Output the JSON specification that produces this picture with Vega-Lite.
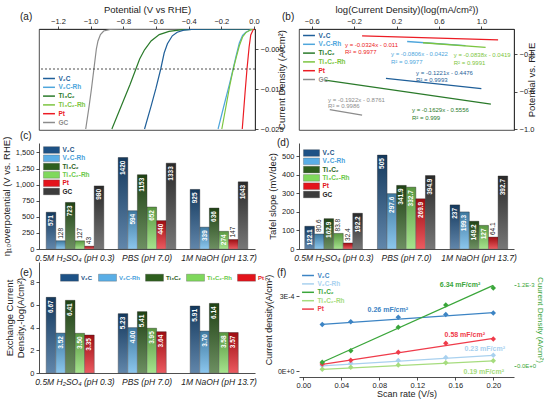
{
  "$schema": "https://vega.github.io/schema/vega-lite/v6.json",
  "padding": {"left": 1, "top": 3, "right": 0, "bottom": 0},
  "columns": 2,
  "spacing": {"row": 13, "column": 44},
  "bounds": "flush",
  "align": "each",
  "resolve": {"scale": {"color": "independent"}, "legend": {"color": "independent"}},
  "config": {
    "font": "Liberation Sans",
    "view": {"stroke": null},
    "axis": {"labelFontSize": 7.5, "titleFontSize": 9.5, "titleFontWeight": "normal", "labelColor": "#222", "titleColor": "#222", "tickColor": "#222", "domainColor": "#222", "tickSize": 3, "tickWidth": 0.8, "domainWidth": 0.8, "grid": false, "labelPadding": 2, "titlePadding": 4, "labelOverlap": false, "labelFlush": false},
    "legend": {"labelFontSize": 6.5, "labelFontWeight": "bold"},
    "title": {"fontSize": 10, "fontWeight": "normal", "anchor": "start", "frame": "group", "offset": 0, "color": "#222"}
  },
  "concat": [
    {
      "width": 216, "height": 101,
      "view": {"stroke": "#222", "strokeWidth": 0.8},
      "title": {"text": "(a)", "dx": -19, "dy": 22},
      "layer": [
        {
          "data": {"values": [
            {"s":"GC","E":0,"j":0},{"s":"GC","E":-0.8,"j":-0.00002},{"s":"GC","E":-0.88,"j":-0.0001},{"s":"GC","E":-0.92,"j":-0.0005},{"s":"GC","E":-0.94,"j":-0.0014},{"s":"GC","E":-0.955,"j":-0.003},{"s":"GC","E":-0.965,"j":-0.005},{"s":"GC","E":-0.98,"j":-0.01},{"s":"GC","E":-0.995,"j":-0.015},{"s":"GC","E":-1.01,"j":-0.0195},{"s":"GC","E":-1.03,"j":-0.025},
            {"s":"Ti₃C₂","E":0,"j":0},{"s":"Ti₃C₂","E":-0.35,"j":-0.00003},{"s":"Ti₃C₂","E":-0.45,"j":-0.0002},{"s":"Ti₃C₂","E":-0.52,"j":-0.0006},{"s":"Ti₃C₂","E":-0.58,"j":-0.0014},{"s":"Ti₃C₂","E":-0.63,"j":-0.003},{"s":"Ti₃C₂","E":-0.67,"j":-0.0052},{"s":"Ti₃C₂","E":-0.7,"j":-0.0075},{"s":"Ti₃C₂","E":-0.723,"j":-0.01},{"s":"Ti₃C₂","E":-0.76,"j":-0.014},{"s":"Ti₃C₂","E":-0.8,"j":-0.018},{"s":"Ti₃C₂","E":-0.84,"j":-0.022},{"s":"Ti₃C₂","E":-0.87,"j":-0.025},
            {"s":"V₂C","E":0,"j":0},{"s":"V₂C","E":-0.3,"j":-0.00003},{"s":"V₂C","E":-0.38,"j":-0.0001},{"s":"V₂C","E":-0.43,"j":-0.0003},{"s":"V₂C","E":-0.47,"j":-0.0008},{"s":"V₂C","E":-0.5,"j":-0.0017},{"s":"V₂C","E":-0.53,"j":-0.0037},{"s":"V₂C","E":-0.55,"j":-0.006},{"s":"V₂C","E":-0.571,"j":-0.01},{"s":"V₂C","E":-0.6,"j":-0.0148},{"s":"V₂C","E":-0.63,"j":-0.0193},{"s":"V₂C","E":-0.67,"j":-0.025},
            {"s":"V₂C-Rh","E":0,"j":0},{"s":"V₂C-Rh","E":-0.02,"j":-0.0002},{"s":"V₂C-Rh","E":-0.05,"j":-0.0008},{"s":"V₂C-Rh","E":-0.07,"j":-0.0016},{"s":"V₂C-Rh","E":-0.09,"j":-0.0035},{"s":"V₂C-Rh","E":-0.11,"j":-0.0068},{"s":"V₂C-Rh","E":-0.128,"j":-0.01},{"s":"V₂C-Rh","E":-0.15,"j":-0.0137},{"s":"V₂C-Rh","E":-0.18,"j":-0.0185},{"s":"V₂C-Rh","E":-0.22,"j":-0.025},
            {"s":"Ti₃C₂-Rh","E":0,"j":0},{"s":"Ti₃C₂-Rh","E":-0.02,"j":-0.0002},{"s":"Ti₃C₂-Rh","E":-0.05,"j":-0.0009},{"s":"Ti₃C₂-Rh","E":-0.07,"j":-0.002},{"s":"Ti₃C₂-Rh","E":-0.09,"j":-0.0042},{"s":"Ti₃C₂-Rh","E":-0.11,"j":-0.0073},{"s":"Ti₃C₂-Rh","E":-0.127,"j":-0.01},{"s":"Ti₃C₂-Rh","E":-0.15,"j":-0.0145},{"s":"Ti₃C₂-Rh","E":-0.17,"j":-0.019},{"s":"Ti₃C₂-Rh","E":-0.197,"j":-0.025},
            {"s":"Pt","E":0,"j":0},{"s":"Pt","E":-0.005,"j":-0.0002},{"s":"Pt","E":-0.02,"j":-0.0015},{"s":"Pt","E":-0.03,"j":-0.0045},{"s":"Pt","E":-0.043,"j":-0.01},{"s":"Pt","E":-0.055,"j":-0.016},{"s":"Pt","E":-0.072,"j":-0.025}
          ]},
          "mark": {"type": "line", "strokeWidth": 1.2, "clip": true},
          "encoding": {
            "x": {"field": "E", "type": "quantitative", "scale": {"domain": [-1.316, 0.006], "nice": false, "zero": false},
                  "axis": {"orient": "top", "title": "Potential (V vs RHE)", "values": [-1.2, -1, -0.8, -0.6, -0.4, -0.2, 0], "format": ".1f", "labelPadding": 1, "titlePadding": 3}},
            "y": {"field": "j", "type": "quantitative", "scale": {"domain": [-0.02525, 0], "nice": false, "zero": false},
                  "axis": {"orient": "right", "title": "Current Density (A/cm²)", "titleAngle": 270, "values": [0, -0.005, -0.01, -0.015, -0.02, -0.025], "format": ".3f", "titlePadding": 3}},
            "color": {"field": "s", "type": "nominal",
                      "scale": {"domain": ["V₂C","V₂C-Rh","Ti₃C₂","Ti₃C₂-Rh","Pt","GC"], "range": ["#1f5f99","#4ea6dc","#2a7a2a","#7cc540","#ec1c24","#8c8c8c"]},
                      "legend": {"title": null, "orient": "none", "legendX": 5.5, "legendY": 45, "symbolType": "M-1.7,0H1.7", "symbolSize": 49, "symbolStrokeWidth": 1.5, "rowPadding": 0.8, "labelOffset": 5,
                                 "encode": {"labels": {"update": {"fill": {"signal": "['#1f5f99','#4ea6dc','#2a7a2a','#7cc540','#ec1c24','#8c8c8c'][indexof(['V₂C','V₂C-Rh','Ti₃C₂','Ti₃C₂-Rh','Pt','GC'], datum.value)]"}}}}}}
          }
        },
        {
          "data": {"values": [{"j": -0.01}]},
          "mark": {"type": "rule", "strokeDash": [2, 2], "strokeWidth": 0.8, "color": "#222"},
          "encoding": {"y": {"field": "j", "type": "quantitative"}}
        }
      ]
    },
    {
      "width": 215, "height": 101,
      "view": {"stroke": "#222", "strokeWidth": 0.8},
      "title": {"text": "(b)", "dx": -17, "dy": 22},
      "layer": [
        {
          "data": {"values": [
            {"s":"Pt","x":-0.125,"y":-0.00695},{"s":"Pt","x":1.158,"y":-0.0485},
            {"s":"V₂C-Rh","x":0.3,"y":-0.0664},{"s":"V₂C-Rh","x":0.85,"y":-0.1107},
            {"s":"Ti₃C₂-Rh","x":0.45,"y":-0.0796},{"s":"Ti₃C₂-Rh","x":1.04,"y":-0.1291},
            {"s":"V₂C","x":0.1,"y":-0.4598},{"s":"V₂C","x":1.0,"y":-0.5697},
            {"s":"Ti₃C₂","x":-0.475,"y":-0.4782},{"s":"Ti₃C₂","x":1.09,"y":-0.7332},
            {"s":"GC","x":-0.43,"y":-0.7935},{"s":"GC","x":-0.125,"y":-0.8521}
          ]},
          "mark": {"type": "line", "strokeWidth": 1.3},
          "encoding": {
            "x": {"field": "x", "type": "quantitative", "scale": {"domain": [-0.72, 1.308], "nice": false, "zero": false},
                  "axis": {"orient": "top", "title": "log(Current Density)(log(mA/cm²))", "values": [-0.6,-0.4,-0.2,0,0.2,0.4,0.6,0.8,1.0,1.2], "format": ".1f", "labelPadding": 1, "titlePadding": 3}},
            "y": {"field": "y", "type": "quantitative", "scale": {"domain": [-1.01, 0.067], "nice": false, "zero": false},
                  "axis": {"orient": "right", "title": "Potential vs. RHE", "titleAngle": 270, "values": [0, -0.2, -0.4, -0.6, -0.8, -1.0], "format": ".1f", "titlePadding": 3}},
            "color": {"field": "s", "type": "nominal",
                      "scale": {"domain": ["V₂C","V₂C-Rh","Ti₃C₂","Ti₃C₂-Rh","Pt","GC"], "range": ["#1f5f99","#4ea6dc","#2a7a2a","#7cc540","#ec1c24","#8c8c8c"]},
                      "legend": {"title": null, "orient": "none", "legendX": 5.5, "legendY": 2, "symbolType": "M-1.7,0H1.7", "symbolSize": 49, "symbolStrokeWidth": 1.5, "rowPadding": 0.8, "labelOffset": 5,
                                 "encode": {"labels": {"update": {"fill": {"signal": "['#1f5f99','#4ea6dc','#2a7a2a','#7cc540','#ec1c24','#8c8c8c'][indexof(['V₂C','V₂C-Rh','Ti₃C₂','Ti₃C₂-Rh','Pt','GC'], datum.value)]"}}}}}}
          }
        },
        {
          "data": {"values": [
            {"s":"Pt","x":-0.286,"y":-0.106,"t":"y = -0.0324x - 0.011"},{"s":"Pt","x":-0.286,"y":-0.18,"t":"R² = 0.9977"},
            {"s":"V₂C-Rh","x":0.148,"y":-0.2,"t":"y = -0.0806x - 0.0422"},{"s":"V₂C-Rh","x":0.148,"y":-0.287,"t":"R² = 0.9977"},
            {"s":"Ti₃C₂-Rh","x":0.74,"y":-0.21,"t":"y = -0.0838x - 0.0419"},{"s":"Ti₃C₂-Rh","x":0.74,"y":-0.296,"t":"R² = 0.9991"},
            {"s":"V₂C","x":0.384,"y":-0.4,"t":"y = -0.1221x - 0.4476"},{"s":"V₂C","x":0.384,"y":-0.48,"t":"R² = 0.9993"},
            {"s":"GC","x":-0.446,"y":-0.69,"t":"y = -0.1922x - 0.8761"},{"s":"GC","x":-0.446,"y":-0.755,"t":"R² = 0.9986"},
            {"s":"Ti₃C₂","x":0.346,"y":-0.8,"t":"y = -0.1629x - 0.5556"},{"s":"Ti₃C₂","x":0.346,"y":-0.88,"t":"R² = 0.999"}
          ]},
          "mark": {"type": "text", "align": "left", "baseline": "middle", "fontSize": 6},
          "encoding": {
            "x": {"field": "x", "type": "quantitative"},
            "y": {"field": "y", "type": "quantitative"},
            "text": {"field": "t"},
            "color": {"field": "s", "type": "nominal", "legend": null}
          }
        }
      ]
    },
    {
      "width": 216, "height": 106,
      "title": {"text": "(c)", "dx": -19, "dy": 9},
      "data": {"values": [
        {"g":"0.5M H₂SO₄ (pH 0.3)","s":"V₂C","v":571},{"g":"0.5M H₂SO₄ (pH 0.3)","s":"V₂C-Rh","v":128},{"g":"0.5M H₂SO₄ (pH 0.3)","s":"Ti₃C₂","v":723},{"g":"0.5M H₂SO₄ (pH 0.3)","s":"Ti₃C₂-Rh","v":127},{"g":"0.5M H₂SO₄ (pH 0.3)","s":"Pt","v":43},{"g":"0.5M H₂SO₄ (pH 0.3)","s":"GC","v":980},
        {"g":"PBS (pH 7.0)","s":"V₂C","v":1420},{"g":"PBS (pH 7.0)","s":"V₂C-Rh","v":594},{"g":"PBS (pH 7.0)","s":"Ti₃C₂","v":1153},{"g":"PBS (pH 7.0)","s":"Ti₃C₂-Rh","v":652},{"g":"PBS (pH 7.0)","s":"Pt","v":440},{"g":"PBS (pH 7.0)","s":"GC","v":1333},
        {"g":"1M NaOH (pH 13.7)","s":"V₂C","v":925},{"g":"1M NaOH (pH 13.7)","s":"V₂C-Rh","v":339},{"g":"1M NaOH (pH 13.7)","s":"Ti₃C₂","v":636},{"g":"1M NaOH (pH 13.7)","s":"Ti₃C₂-Rh","v":274},{"g":"1M NaOH (pH 13.7)","s":"Pt","v":147},{"g":"1M NaOH (pH 13.7)","s":"GC","v":1043}
      ]},
      "encoding": {
        "x": {"field": "g", "type": "nominal", "sort": ["0.5M H₂SO₄ (pH 0.3)","PBS (pH 7.0)","1M NaOH (pH 13.7)"], "scale": {"paddingInner": 0.2, "paddingOuter": 0.1},
              "axis": {"title": null, "labelAngle": 0, "labelFontStyle": "italic", "labelFontSize": 8.5, "ticks": false, "labelPadding": 4}},
        "xOffset": {"field": "s", "type": "nominal", "sort": ["V₂C","V₂C-Rh","Ti₃C₂","Ti₃C₂-Rh","Pt","GC"]},
        "y": {"field": "v", "type": "quantitative", "scale": {"domain": [0, 1646], "nice": false},
              "axis": {"title": "η₁₀overpotential (V vs. RHE)", "values": [0, 250, 500, 750, 1000, 1250, 1500]}}
      },
      "layer": [
        {"mark": {"type": "bar", "stroke": "#333", "strokeWidth": 0.4},
         "encoding": {"color": {"field": "s", "type": "nominal",
           "scale": {"domain": ["V₂C","V₂C-Rh","Ti₃C₂","Ti₃C₂-Rh","Pt","GC"], "range": ["#1d5286","#5aaee6","#2e5f1e","#7fd85c","#e3131b","#3c3c3c"]},
           "legend": {"title": null, "orient": "none", "legendX": 8.5, "legendY": 3, "symbolType": "M-2.3,-0.95H2.3V0.95H-2.3Z", "symbolSize": 49, "symbolStrokeWidth": 0.3, "symbolStrokeColor": "#444", "symbolOpacity": 1, "rowPadding": 0.3, "labelOffset": 7,
             "encode": {"labels": {"update": {"fill": {"signal": "['#1d5286','#4a9fdc','#2e5f1e','#6cc94a','#e3131b','#222222'][indexof(['V₂C','V₂C-Rh','Ti₃C₂','Ti₃C₂-Rh','Pt','GC'], datum.value)]"}}}}}}}},
        {"mark": {"type": "bar", "fill": {"gradient": "linear", "x1": 0, "y1": 0, "x2": 0, "y2": 1, "stops": [{"offset": 0, "color": "rgba(0,0,0,0.3)"}, {"offset": 1, "color": "rgba(255,255,255,0.3)"}]}}},
        {"transform": [{"filter": "datum.v >= 200"}],
         "mark": {"type": "text", "angle": 270, "align": "right", "baseline": "middle", "dx": -3, "fontSize": 6.5, "fontWeight": "bold", "color": "white"},
         "encoding": {"text": {"field": "v", "type": "quantitative"}}},
        {"transform": [{"filter": "datum.v < 200"}],
         "mark": {"type": "text", "angle": 270, "align": "left", "baseline": "middle", "dx": 2, "fontSize": 6.5, "color": "#222"},
         "encoding": {"text": {"field": "v", "type": "quantitative"}}}
      ]
    },
    {
      "width": 215, "height": 106,
      "title": {"text": "(d)", "dx": -22, "dy": 9},
      "data": {"values": [
        {"g":"0.5M H₂SO₄ (pH 0.3)","s":"V₂C","v":122.1},{"g":"0.5M H₂SO₄ (pH 0.3)","s":"V₂C-Rh","v":80.6},{"g":"0.5M H₂SO₄ (pH 0.3)","s":"Ti₃C₂","v":162.9},{"g":"0.5M H₂SO₄ (pH 0.3)","s":"Ti₃C₂-Rh","v":83.8},{"g":"0.5M H₂SO₄ (pH 0.3)","s":"Pt","v":32.4},{"g":"0.5M H₂SO₄ (pH 0.3)","s":"GC","v":192.2},
        {"g":"PBS (pH 7.0)","s":"V₂C","v":505},{"g":"PBS (pH 7.0)","s":"V₂C-Rh","v":297.6},{"g":"PBS (pH 7.0)","s":"Ti₃C₂","v":341.9},{"g":"PBS (pH 7.0)","s":"Ti₃C₂-Rh","v":332.7},{"g":"PBS (pH 7.0)","s":"Pt","v":269.9},{"g":"PBS (pH 7.0)","s":"GC","v":394.9},
        {"g":"1M NaOH (pH 13.7)","s":"V₂C","v":237},{"g":"1M NaOH (pH 13.7)","s":"V₂C-Rh","v":199.3},{"g":"1M NaOH (pH 13.7)","s":"Ti₃C₂","v":149.2},{"g":"1M NaOH (pH 13.7)","s":"Ti₃C₂-Rh","v":127},{"g":"1M NaOH (pH 13.7)","s":"Pt","v":64.1},{"g":"1M NaOH (pH 13.7)","s":"GC","v":392.7}
      ]},
      "encoding": {
        "x": {"field": "g", "type": "nominal", "sort": ["0.5M H₂SO₄ (pH 0.3)","PBS (pH 7.0)","1M NaOH (pH 13.7)"], "scale": {"paddingInner": 0.2, "paddingOuter": 0.08},
              "axis": {"title": null, "labelAngle": 0, "labelFontStyle": "italic", "labelFontSize": 8.5, "ticks": false, "labelPadding": 4}},
        "xOffset": {"field": "s", "type": "nominal", "sort": ["V₂C","V₂C-Rh","Ti₃C₂","Ti₃C₂-Rh","Pt","GC"]},
        "y": {"field": "v", "type": "quantitative", "scale": {"domain": [0, 570], "nice": false},
              "axis": {"title": "Tafel slope (mV/dec)", "values": [0, 100, 200, 300, 400, 500]}}
      },
      "layer": [
        {"mark": {"type": "bar", "stroke": "#333", "strokeWidth": 0.4},
         "encoding": {"color": {"field": "s", "type": "nominal",
           "scale": {"domain": ["V₂C","V₂C-Rh","Ti₃C₂","Ti₃C₂-Rh","Pt","GC"], "range": ["#1d5286","#5aaee6","#2e5f1e","#7fd85c","#e3131b","#3c3c3c"]},
           "legend": {"title": null, "orient": "none", "legendX": 8.5, "legendY": 6, "symbolType": "M-2.3,-0.95H2.3V0.95H-2.3Z", "symbolSize": 49, "symbolStrokeWidth": 0.3, "symbolStrokeColor": "#444", "symbolOpacity": 1, "rowPadding": 0.3, "labelOffset": 7,
             "encode": {"labels": {"update": {"fill": {"signal": "['#1d5286','#4a9fdc','#2e5f1e','#6cc94a','#e3131b','#222222'][indexof(['V₂C','V₂C-Rh','Ti₃C₂','Ti₃C₂-Rh','Pt','GC'], datum.value)]"}}}}}}}},
        {"mark": {"type": "bar", "fill": {"gradient": "linear", "x1": 0, "y1": 0, "x2": 0, "y2": 1, "stops": [{"offset": 0, "color": "rgba(0,0,0,0.3)"}, {"offset": 1, "color": "rgba(255,255,255,0.3)"}]}}},
        {"transform": [{"filter": "datum.v >= 100"}],
         "mark": {"type": "text", "angle": 270, "align": "right", "baseline": "middle", "dx": -3, "fontSize": 6.5, "fontWeight": "bold", "color": "white"},
         "encoding": {"text": {"field": "v", "type": "quantitative"}}},
        {"transform": [{"filter": "datum.v < 100"}],
         "mark": {"type": "text", "angle": 270, "align": "left", "baseline": "middle", "dx": 2, "fontSize": 6.5, "color": "#222"},
         "encoding": {"text": {"field": "v", "type": "quantitative"}}}
      ]
    },
    {
      "width": 216, "height": 111,
      "title": {"text": "(e)", "dx": -19, "dy": 20},
      "data": {"values": [
        {"g":"0.5M H₂SO₄ (pH 0.3)","s":"V₂C","v":6.67},{"g":"0.5M H₂SO₄ (pH 0.3)","s":"V₂C-Rh","v":3.52},{"g":"0.5M H₂SO₄ (pH 0.3)","s":"Ti₃C₂","v":6.41},{"g":"0.5M H₂SO₄ (pH 0.3)","s":"Ti₃C₂-Rh","v":3.5},{"g":"0.5M H₂SO₄ (pH 0.3)","s":"Pt","v":3.35},
        {"g":"PBS (pH 7.0)","s":"V₂C","v":5.23},{"g":"PBS (pH 7.0)","s":"V₂C-Rh","v":4.0},{"g":"PBS (pH 7.0)","s":"Ti₃C₂","v":5.41},{"g":"PBS (pH 7.0)","s":"Ti₃C₂-Rh","v":3.95},{"g":"PBS (pH 7.0)","s":"Pt","v":3.64},
        {"g":"1M NaOH (pH 13.7)","s":"V₂C","v":5.91},{"g":"1M NaOH (pH 13.7)","s":"V₂C-Rh","v":3.7},{"g":"1M NaOH (pH 13.7)","s":"Ti₃C₂","v":6.14},{"g":"1M NaOH (pH 13.7)","s":"Ti₃C₂-Rh","v":3.58},{"g":"1M NaOH (pH 13.7)","s":"Pt","v":3.57}
      ]},
      "encoding": {
        "x": {"field": "g", "type": "nominal", "sort": ["0.5M H₂SO₄ (pH 0.3)","PBS (pH 7.0)","1M NaOH (pH 13.7)"], "scale": {"paddingInner": 0.2, "paddingOuter": 0.1},
              "axis": {"title": null, "labelAngle": 0, "labelFontStyle": "italic", "labelFontSize": 8.5, "ticks": false, "labelPadding": 4}},
        "xOffset": {"field": "s", "type": "nominal", "sort": ["V₂C","V₂C-Rh","Ti₃C₂","Ti₃C₂-Rh","Pt"]},
        "y": {"field": "v", "type": "quantitative", "scale": {"domain": [0, 9.79], "nice": false},
              "axis": {"title": ["Exchange Current", "Density,-log(A/cm²)"], "titleLineHeight": 11, "values": [0, 2, 4, 6, 8]}}
      },
      "layer": [
        {"mark": {"type": "bar", "stroke": "#333", "strokeWidth": 0.4},
         "encoding": {"color": {"field": "s", "type": "nominal",
           "scale": {"domain": ["V₂C","V₂C-Rh","Ti₃C₂","Ti₃C₂-Rh","Pt"], "range": ["#1d5286","#5aaee6","#2e5f1e","#7fd85c","#e3131b"]},
           "legend": {"title": null, "orient": "none", "direction": "horizontal", "legendX": 21, "legendY": 6, "symbolType": "M-1,-0.39H1V0.39H-1Z", "symbolSize": 324, "symbolStrokeWidth": 0.3, "symbolStrokeColor": "#444", "symbolOpacity": 1, "columnPadding": 4, "labelOffset": 2, "labelFontSize": 6,
             "encode": {"labels": {"update": {"fill": {"signal": "['#1d5286','#4a9fdc','#2e5f1e','#6cc94a','#e3131b'][indexof(['V₂C','V₂C-Rh','Ti₃C₂','Ti₃C₂-Rh','Pt'], datum.value)]"}}}}}}}},
        {"mark": {"type": "bar", "fill": {"gradient": "linear", "x1": 0, "y1": 0, "x2": 0, "y2": 1, "stops": [{"offset": 0, "color": "rgba(0,0,0,0.3)"}, {"offset": 1, "color": "rgba(255,255,255,0.3)"}]}}},
        {"mark": {"type": "text", "angle": 270, "align": "right", "baseline": "middle", "dx": -3, "fontSize": 6.5, "fontWeight": "bold", "color": "white"},
         "encoding": {"text": {"field": "v", "type": "quantitative", "format": ".2f"}}}
      ]
    },
    {
      "width": 215, "height": 115,
      "title": {"text": "(f)", "dx": -22, "dy": 20},
      "layer": [
        {
          "layer": [
            {
              "data": {"values": [
                {"s":"V₂C","x":0.02,"y":0.000188},{"s":"V₂C","x":0.2,"y":0.000235},
                {"s":"V₂C-Rh","x":0.02,"y":0.000022},{"s":"V₂C-Rh","x":0.2,"y":0.000064},
                {"s":"Ti₃C₂-Rh","x":0.02,"y":0.000008},{"s":"Ti₃C₂-Rh","x":0.2,"y":0.000042},
                {"s":"Pt","x":0.02,"y":0.000028},{"s":"Pt","x":0.2,"y":0.000132}
              ]},
              "mark": {"type": "line", "strokeWidth": 1.2},
              "encoding": {
                "x": {"field": "x", "type": "quantitative", "scale": {"domain": [-0.0045, 0.2218], "nice": false, "zero": false},
                      "axis": {"title": "Scan rate (V/s)", "values": [0, 0.04, 0.08, 0.12, 0.16, 0.2], "format": ".2f", "labelPadding": 1, "titlePadding": 1, "titleFontSize": 9}},
                "y": {"field": "y", "type": "quantitative", "scale": {"domain": [-0.0000228, 0.0004372], "nice": false, "zero": false},
                      "axis": {"title": "Current density(A/cm²)", "values": [0, 0.0001, 0.0002, 0.0003], "labelExpr": "upper(format(datum.value, '.0e'))", "domain": false, "labelFontSize": 7, "titleFontSize": 9}},
                "color": {"field": "s", "type": "nominal",
                          "scale": {"domain": ["V₂C","V₂C-Rh","Ti₃C₂","Ti₃C₂-Rh","Pt"], "range": ["#3c84c4","#a9d1ef","#3aa63a","#a6dc7e","#ef3b4a"]},
                          "legend": {"title": null, "orient": "none", "legendX": 4.5, "legendY": 9, "symbolType": "M-1.7,0H1.7", "symbolSize": 49, "symbolStrokeWidth": 1.5, "rowPadding": 0.4, "labelOffset": 5,
                                     "encode": {"labels": {"update": {"fill": {"signal": "['#3c84c4','#a9d1ef','#3aa63a','#a6dc7e','#ef3b4a'][indexof(['V₂C','V₂C-Rh','Ti₃C₂','Ti₃C₂-Rh','Pt'], datum.value)]"}}}}}}
              }
            },
            {
              "data": {"values": [
                {"s":"V₂C","x":0.02,"y":0.000187},{"s":"V₂C","x":0.05,"y":0.000198},{"s":"V₂C","x":0.1,"y":0.000216},{"s":"V₂C","x":0.15,"y":0.000227},{"s":"V₂C","x":0.2,"y":0.000233},
                {"s":"V₂C-Rh","x":0.02,"y":0.000023},{"s":"V₂C-Rh","x":0.05,"y":0.000032},{"s":"V₂C-Rh","x":0.1,"y":0.000043},{"s":"V₂C-Rh","x":0.15,"y":0.000055},{"s":"V₂C-Rh","x":0.2,"y":0.000064},
                {"s":"Ti₃C₂-Rh","x":0.02,"y":0.000008},{"s":"Ti₃C₂-Rh","x":0.05,"y":0.000016},{"s":"Ti₃C₂-Rh","x":0.1,"y":0.000025},{"s":"Ti₃C₂-Rh","x":0.15,"y":0.000034},{"s":"Ti₃C₂-Rh","x":0.2,"y":0.000042},
                {"s":"Pt","x":0.02,"y":0.000029},{"s":"Pt","x":0.05,"y":0.000044},{"s":"Pt","x":0.1,"y":0.000076},{"s":"Pt","x":0.15,"y":0.000112},{"s":"Pt","x":0.2,"y":0.000129}
              ]},
              "mark": {"type": "point", "shape": "diamond", "filled": true, "size": 30, "opacity": 1},
              "encoding": {
                "x": {"field": "x", "type": "quantitative"},
                "y": {"field": "y", "type": "quantitative"},
                "color": {"field": "s", "type": "nominal", "legend": null}
              }
            },
            {
              "data": {"values": [
                {"s":"V₂C","x":0.089,"y":0.000245,"t":"0.26 mF/cm²"},
                {"s":"Ti₃C₂","x":0.165,"y":0.000345,"t":"6.34 mF/cm²"},
                {"s":"Pt","x":0.17,"y":0.000145,"t":"0.58 mF/cm²"},
                {"s":"V₂C-Rh","x":0.191,"y":0.000089,"t":"0.23 mF/cm²"},
                {"s":"Ti₃C₂-Rh","x":0.19,"y":-0.000003,"t":"0.19 mF/cm²"}
              ]},
              "mark": {"type": "text", "fontSize": 7, "fontWeight": "bold", "align": "center", "baseline": "middle"},
              "encoding": {
                "x": {"field": "x", "type": "quantitative"},
                "y": {"field": "y", "type": "quantitative"},
                "text": {"field": "t"},
                "color": {"field": "s", "type": "nominal", "legend": null}
              }
            },
            {
              "mark": {"type": "rule", "color": "#222", "strokeWidth": 0.8},
              "encoding": {"x": {"datum": -0.0045, "type": "quantitative"}, "x2": {"datum": 0.2218}, "y": {"datum": 0.0004, "type": "quantitative"}}
            },
            {
              "mark": {"type": "rule", "color": "#222", "strokeWidth": 0.8},
              "encoding": {"x": {"datum": -0.0045, "type": "quantitative"}, "y": {"datum": -0.0000228, "type": "quantitative"}, "y2": {"datum": 0.0004}}
            },
            {
              "mark": {"type": "rule", "color": "#3aa63a", "strokeWidth": 0.8},
              "encoding": {"x": {"datum": 0.2218, "type": "quantitative"}, "y": {"datum": -0.0000228, "type": "quantitative"}, "y2": {"datum": 0.0004}}
            }
          ]
        },
        {
          "layer": [
            {
              "data": {"values": [{"s":"Ti₃C₂","x":0.02,"y":0.00005},{"s":"Ti₃C₂","x":0.2,"y":0.00119}]},
              "mark": {"type": "line", "strokeWidth": 1.2},
              "encoding": {
                "x": {"field": "x", "type": "quantitative"},
                "y": {"field": "y", "type": "quantitative", "scale": {"domain": [-0.0001689, 0.001536], "nice": false, "zero": false},
                      "axis": {"orient": "right", "title": "Cuurent Density (A/cm²)", "values": [0, 0.0004, 0.0008, 0.0012], "labelExpr": "upper(format(datum.value, '.1e'))", "domain": false, "labelColor": "#3aa63a", "titleColor": "#3aa63a", "tickColor": "#3aa63a", "tickSize": 2, "labelFontSize": 6, "labelPadding": 0.5, "titlePadding": 0, "titleFontSize": 8}},
                "color": {"field": "s", "type": "nominal", "legend": null}
              }
            },
            {
              "data": {"values": [{"s":"Ti₃C₂","x":0.02,"y":0.00005},{"s":"Ti₃C₂","x":0.05,"y":0.00022},{"s":"Ti₃C₂","x":0.1,"y":0.00057},{"s":"Ti₃C₂","x":0.15,"y":0.0009},{"s":"Ti₃C₂","x":0.2,"y":0.00115}]},
              "mark": {"type": "point", "shape": "diamond", "filled": true, "size": 30, "opacity": 1},
              "encoding": {
                "x": {"field": "x", "type": "quantitative"},
                "y": {"field": "y", "type": "quantitative"},
                "color": {"field": "s", "type": "nominal", "legend": null}
              }
            }
          ]
        }
      ],
      "resolve": {"scale": {"y": "independent"}}
    }
  ]
}
